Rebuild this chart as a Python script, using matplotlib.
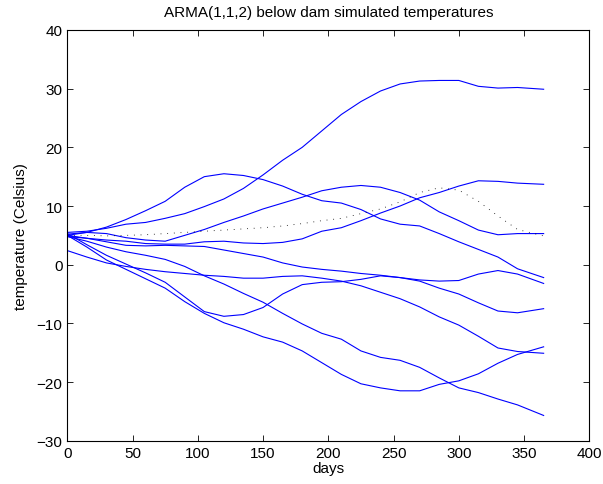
import matplotlib
matplotlib.use("Agg")
import matplotlib.pyplot as plt

plt.rcParams['font.family'] = ['Liberation Sans', 'DejaVu Sans']

days = [0, 15, 30, 45, 60, 75, 90, 105, 120, 135, 150, 165, 180,
        195, 210, 225, 240, 255, 270, 285, 300, 315, 330, 345, 365]

sim1 = [5.5, 5.7, 6.2, 6.9, 7.2, 7.9, 8.7, 9.9, 11.2, 13.0, 15.3, 17.8, 20.0,
        22.8, 25.6, 27.8, 29.6, 30.8, 31.3, 31.4, 31.4, 30.4, 30.1, 30.2, 29.9]
sim2 = [5.0, 5.5, 6.4, 7.7, 9.2, 10.8, 13.2, 15.0, 15.5, 15.2, 14.5, 13.4, 12.0,
        10.9, 10.5, 9.4, 7.8, 6.9, 6.6, 5.3, 3.9, 2.6, 1.3, -0.7, -2.2]
sim3 = [5.2, 5.5, 5.3, 4.6, 4.2, 4.0, 5.0, 6.0, 7.2, 8.3, 9.5, 10.5, 11.5,
        12.6, 13.2, 13.5, 13.2, 12.3, 11.0, 9.0, 7.5, 5.9, 5.1, 5.3, 5.3]
sim4 = [4.8, 4.5, 4.2, 4.0, 3.6, 3.5, 3.5, 3.9, 4.0, 3.7, 3.6, 3.8, 4.4,
        5.7, 6.3, 7.5, 8.8, 10.0, 11.4, 12.3, 13.4, 14.3, 14.2, 13.9, 13.7]
sim5 = [5.0, 4.5, 3.9, 3.3, 3.2, 3.3, 3.2, 3.1, 2.5, 1.9, 1.3, 0.3, -0.4,
        -0.8, -1.1, -1.5, -1.8, -2.2, -2.6, -2.8, -2.7, -1.6, -1.0, -1.6, -3.2]
sim6 = [2.4, 1.3, 0.3, -0.3, -0.8, -1.2, -1.5, -1.8, -2.0, -2.3, -2.3, -2.0, -1.9,
        -2.3, -2.8, -3.6, -4.7, -5.8, -7.2, -8.9, -10.3, -12.2, -14.2, -14.8, -15.1]
sim7 = [4.8, 4.0, 3.0, 2.2, 1.6, 0.9, -0.3, -1.9, -3.3, -4.9, -6.4, -8.3, -10.1,
        -11.7, -12.7, -14.7, -15.8, -16.3, -17.5, -19.3, -21.0, -21.8, -22.9, -23.9, -25.7]
sim8 = [5.0, 3.0, 0.8, -0.8, -2.4, -4.0, -6.3, -8.3, -9.9, -11.0, -12.3, -13.2, -14.7,
        -16.7, -18.7, -20.3, -21.0, -21.5, -21.5, -20.4, -19.8, -18.6, -16.8, -15.3, -14.0]
sim9 = [5.3, 3.4, 1.6, 0.1, -1.4, -3.0, -5.5, -8.0, -8.8, -8.5, -7.3, -5.0, -3.4,
        -3.0, -2.9, -2.5, -1.9, -2.2, -2.8, -4.0, -5.0, -6.5, -7.9, -8.2, -7.5]
dotted = [5.0, 5.0, 4.9, 5.0, 5.1, 5.3, 5.5, 5.7, 5.9, 6.1, 6.3, 6.6, 7.0,
          7.5, 7.9, 8.7, 9.5, 10.7, 12.3, 13.1, 12.7, 10.8, 8.3, 6.0, 4.9]

sims = [sim1, sim2, sim3, sim4, sim5, sim6, sim7, sim8, sim9]

fig = plt.figure(figsize=(6.03, 4.85), dpi=100)
ax = fig.add_axes([0.1116, 0.0893, 0.8657, 0.8468])

for s in sims:
    ax.plot(days, s, color=(0, 0, 1), linewidth=0.8)
ax.plot(days, dotted, color='k', linewidth=0.6, linestyle=(0, (1, 7)))

ax.set_xlim(0, 400)
ax.set_ylim(-30, 40)
ax.set_xticks(range(0, 401, 50))
ax.set_yticks(range(-30, 41, 10))
ax.tick_params(direction='in', top=True, right=True, labelsize=11, length=4, width=0.6)
for sp in ax.spines.values():
    sp.set_linewidth(0.8)

ax.set_title('ARMA(1,1,2) below dam simulated temperatures', fontsize=11, pad=10)
ax.set_xlabel('days', fontsize=11, labelpad=1)
ax.set_ylabel('temperature (Celsius)', fontsize=11, labelpad=6)

fig.savefig('out.png', dpi=100)
